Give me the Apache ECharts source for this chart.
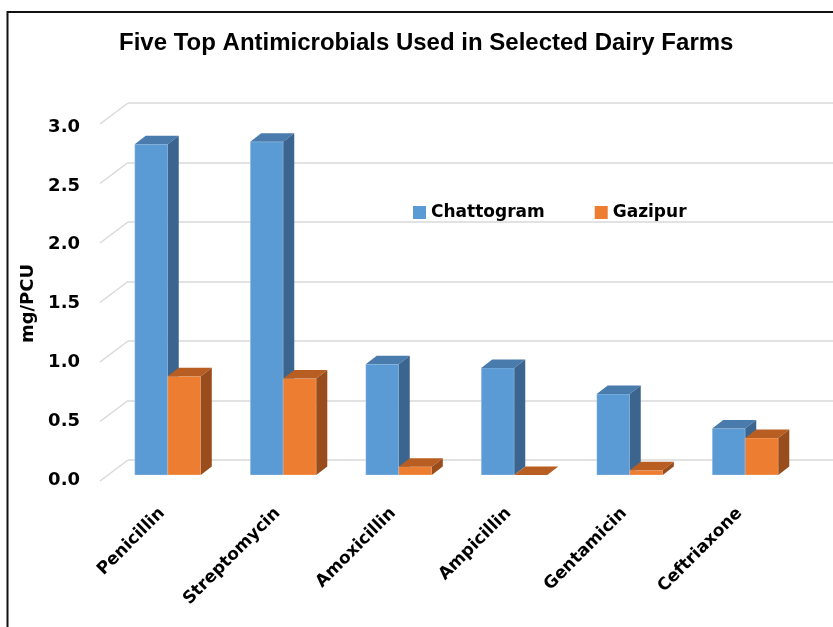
<!DOCTYPE html>
<html>
<head>
<meta charset="utf-8">
<script src="https://cdn.jsdelivr.net/npm/echarts@6/dist/echarts.min.js"></script>
<style>
  html, body { margin: 0; padding: 0; background: #fff; }
  #main { width: 833px; height: 627px; }
</style>
</head>
<body>
<div id="main"></div>
<script>
var categories = ['Penicillin', 'Streptomycin', 'Amoxicillin', 'Ampicillin', 'Gentamicin', 'Ceftriaxone'];
var chattogram = [2.78, 2.80, 0.93, 0.90, 0.68, 0.39];
var gazipur = [0.83, 0.81, 0.07, 0.0, 0.04, 0.31];
var yTicks = [0, 0.5, 1, 1.5, 2, 2.5, 3];

var blueFaces = ['#5b9bd5', '#4a7bad', '#3b658e'];
var orangeFaces = ['#ed7d31', '#b95e22', '#9a4d1c'];
var font = 'DejaVu Sans';

// 3d-looking column: front face, top face, right side
function barRenderer(side, faces) {
    return function (params, api) {
        var i = api.value(0);
        var v = api.value(1);
        var top = api.coord([i, v]);
        var base = api.coord([i, 0]);
        var band = api.size([1, 0])[0];
        var w = band * 0.286;
        var x = side === 0 ? top[0] - w : top[0];
        var dx = 11, dy = -8.5;
        return {
            type: 'group',
            children: [
                {
                    type: 'rect',
                    shape: { x: x, y: top[1], width: w, height: base[1] - top[1] },
                    style: { fill: faces[0], stroke: 'rgba(255,255,255,0.25)', lineWidth: 1 }
                },
                {
                    type: 'polygon',
                    shape: { points: [[x, top[1]], [x + dx, top[1] + dy], [x + w + dx, top[1] + dy], [x + w, top[1]]] },
                    style: { fill: faces[1] }
                },
                {
                    type: 'polygon',
                    shape: { points: [[x + w, top[1]], [x + w + dx, top[1] + dy], [x + w + dx, base[1] + dy], [x + w, base[1]]] },
                    style: { fill: faces[2] }
                }
            ]
        };
    };
}

var myChart = echarts.init(document.getElementById('main'));

var option = {
    backgroundColor: '#fff',
    animation: false,
    title: {
        text: 'Five Top Antimicrobials Used in Selected Dairy Farms',
        left: 119,
        top: 31,
        padding: 0,
        textStyle: { fontFamily: 'Liberation Sans', fontSize: 24, fontWeight: 'bold', color: '#000' }
    },
    legend: {
        data: ['Chattogram', 'Gazipur'],
        left: 408,
        top: 199,
        icon: 'rect',
        itemWidth: 13,
        itemHeight: 13,
        itemGap: 50,
        textStyle: { fontFamily: font, fontSize: 17, fontWeight: 'bold', color: '#000' }
    },
    graphic: [{
        type: 'polyline',
        shape: { points: [[7.5, 627], [7.5, 12], [833, 12]] },
        style: { stroke: '#111', lineWidth: 2, fill: null }
    }],
    grid: [
        { left: 110, right: 30, top: 118, bottom: 152 },   // bars
        { left: 128, right: 0, top: 103, bottom: 167 },    // back wall
        { left: 100, right: 0, top: 127, bottom: 147 }     // front labels
    ],
    xAxis: [
        {
            type: 'category', gridIndex: 0, data: categories,
            axisLine: { show: false }, axisTick: { show: false },
            axisLabel: {
                rotate: 45, margin: 30, interval: 0, padding: [0, 8, 0, 0],
                fontFamily: font, fontSize: 17, fontWeight: 'bold', color: '#000'
            }
        },
        { type: 'value', gridIndex: 1, min: 0, max: 1, show: false },
        { type: 'value', gridIndex: 2, min: 0, max: 1, show: false }
    ],
    yAxis: [
        { type: 'value', gridIndex: 0, min: yTicks[0], max: yTicks[yTicks.length - 1], show: false },
        {
            type: 'value', gridIndex: 1, min: yTicks[0], max: yTicks[yTicks.length - 1], interval: 0.5,
            axisLine: { show: false }, axisTick: { show: false }, axisLabel: { show: false },
            splitLine: { lineStyle: { color: '#d9d9d9', width: 1.5 } }
        },
        {
            type: 'value', gridIndex: 2, min: yTicks[0], max: yTicks[yTicks.length - 1], interval: 0.5,
            axisLine: { show: false }, axisTick: { show: false }, splitLine: { show: false },
            axisLabel: {
                margin: 20, fontFamily: font, fontSize: 18, fontWeight: 'bold', color: '#000',
                formatter: function (v) { return v.toFixed(1); }
            },
            name: 'mg/PCU', nameLocation: 'middle', nameRotate: 90, nameGap: 56,
            nameTextStyle: { fontFamily: font, fontSize: 18, fontWeight: 'bold', color: '#000' }
        }
    ],
    series: [
        {
            type: 'custom', name: 'diag', xAxisIndex: 1, yAxisIndex: 1, silent: true,
            data: yTicks.map(function (v) { return [0, v]; }),
            renderItem: function (params, api) {
                var p = api.coord([0, api.value(1)]);
                return {
                    type: 'line',
                    shape: { x1: p[0], y1: p[1], x2: p[0] - 28, y2: p[1] + 21 },
                    style: { stroke: '#d9d9d9', lineWidth: 1.5 }
                };
            }
        },
        {
            type: 'custom', name: 'Chattogram', xAxisIndex: 0, yAxisIndex: 0,
            itemStyle: { color: blueFaces[0] },
            data: categories.map(function (c, i) { return [i, chattogram[i]]; }),
            encode: { x: 0, y: 1 },
            renderItem: barRenderer(0, blueFaces)
        },
        {
            type: 'custom', name: 'Gazipur', xAxisIndex: 0, yAxisIndex: 0,
            itemStyle: { color: orangeFaces[0] },
            data: categories.map(function (c, i) { return [i, gazipur[i]]; }),
            encode: { x: 0, y: 1 },
            renderItem: barRenderer(1, orangeFaces)
        }
    ]
};

myChart.setOption(option);
</script>
</body>
</html>
